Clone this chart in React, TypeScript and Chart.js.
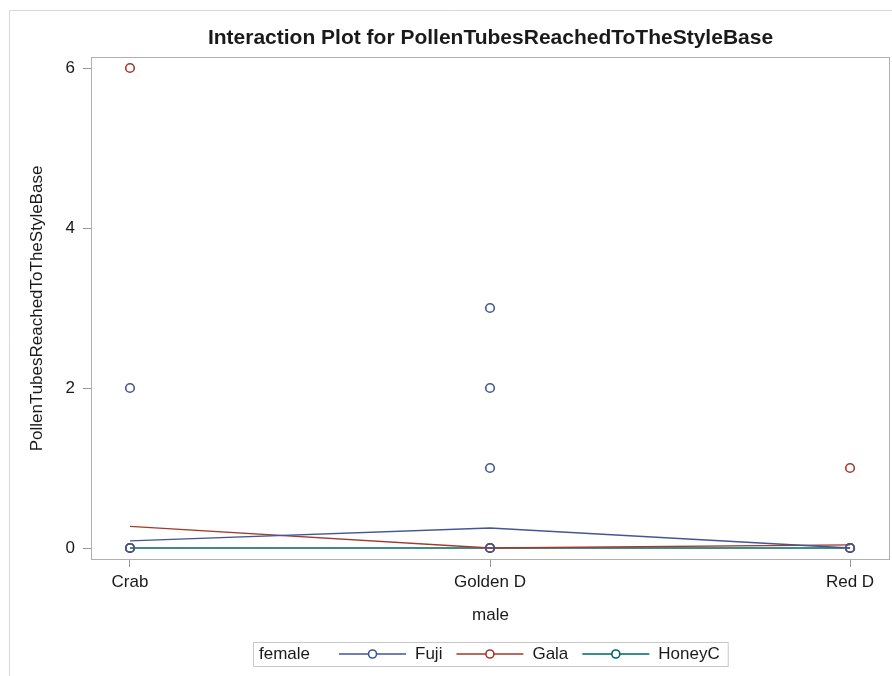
import React, { useEffect, useRef } from "react";
import { Chart, registerables } from "chart.js";

Chart.register(...registerables);

const categories = ["Crab", "Golden D", "Red D"];
const yTickValues = [0, 2, 4, 6];

const fujiObsX = [0, 0, 1, 1, 1, 1, 2];
const fujiObsY = [2, 0, 3, 2, 1, 0, 0];
const galaObsX = [0, 0, 1, 2, 2];
const galaObsY = [6, 0, 0, 1, 0];
const honeyObsX = [0, 1, 2];
const honeyObsY = [0, 0, 0];

const fujiMeans = [0.09, 0.25, 0.0];
const galaMeans = [0.27, 0.0, 0.04];
const honeyMeans = [0.0, 0.0, 0.0];

const groupNames = ["Fuji", "Gala", "HoneyC"];
const groupColors = ["#445694", "#A23A2E", "#01665E"];

const FONT = "'Liberation Sans', Arial, sans-serif";
const TEXT = "#1a1a1a";

function pts(xs: number[], ys: number[]) {
  return xs.map((x, i) => ({ x, y: ys[i] }));
}

const overlay = {
  id: "overlay",
  beforeDraw(chart: any) {
    const ctx = chart.ctx;
    ctx.save();
    ctx.strokeStyle = "#d8d8d8";
    ctx.lineWidth = 1;
    ctx.beginPath();
    ctx.moveTo(9.5, 676);
    ctx.lineTo(9.5, 10.5);
    ctx.lineTo(892, 10.5);
    ctx.stroke();
    ctx.restore();
  },
  afterDraw(chart: any) {
    const ctx = chart.ctx;
    const ca = chart.chartArea;
    const cx = (ca.left + ca.right) / 2;
    ctx.save();
    // frame
    ctx.strokeStyle = "#b0b0b0";
    ctx.lineWidth = 1;
    ctx.strokeRect(ca.left + 0.5, ca.top + 0.5, ca.right - ca.left - 1, ca.bottom - ca.top - 1);
    // title
    ctx.fillStyle = TEXT;
    ctx.textAlign = "center";
    ctx.textBaseline = "alphabetic";
    ctx.font = `bold 21px ${FONT}`;
    ctx.fillText("Interaction Plot for PollenTubesReachedToTheStyleBase", cx, 44);
    // x title
    ctx.font = `17px ${FONT}`;
    ctx.fillText("male", cx, 620);
    // y title
    ctx.save();
    ctx.translate(42, (ca.top + ca.bottom) / 2);
    ctx.rotate(-Math.PI / 2);
    ctx.fillText("PollenTubesReachedToTheStyleBase", 0, 0);
    ctx.restore();
    // legend
    ctx.font = `17px ${FONT}`;
    const padL = 6, padR = 8, lineW = 67, gapTitle = 29, gapText = 9, gapItem = 14;
    const titleW = ctx.measureText("female").width;
    const itemWs = groupNames.map((n) => ctx.measureText(n).width);
    let total = padL + titleW + padR;
    itemWs.forEach((w, i) => {
      total += (i === 0 ? gapTitle : gapItem) + lineW + gapText + w;
    });
    const bx = Math.round(cx - total / 2);
    const by = 642, bh = 24, ly = 654;
    ctx.strokeStyle = "#c8c8c8";
    ctx.strokeRect(bx + 0.5, by + 0.5, total, bh);
    ctx.textAlign = "left";
    ctx.fillStyle = TEXT;
    ctx.fillText("female", bx + padL, 659);
    let x = bx + padL + titleW;
    groupNames.forEach((n, i) => {
      x += i === 0 ? gapTitle : gapItem;
      ctx.strokeStyle = groupColors[i];
      ctx.lineWidth = 1.3;
      ctx.beginPath();
      ctx.moveTo(x, ly);
      ctx.lineTo(x + lineW, ly);
      ctx.stroke();
      ctx.lineWidth = 1.6;
      ctx.beginPath();
      ctx.arc(x + lineW / 2, ly, 4, 0, Math.PI * 2);
      ctx.fillStyle = "#ffffff";
      ctx.fill();
      ctx.stroke();
      x += lineW + gapText;
      ctx.fillStyle = TEXT;
      ctx.fillText(n, x, 659);
      x += itemWs[i];
    });
    ctx.restore();
  },
};

export default function App() {
  const ref = useRef<HTMLCanvasElement | null>(null);
  useEffect(() => {
    if (!ref.current) return;
    const obs = [
      [fujiObsX, fujiObsY],
      [galaObsX, galaObsY],
      [honeyObsX, honeyObsY],
    ];
    const means = [fujiMeans, galaMeans, honeyMeans];
    const pointSets = obs.map(([xs, ys], i) => ({
      label: groupNames[i] + " obs",
      data: pts(xs, ys),
      showLine: false,
      pointRadius: 4.3,
      pointBorderWidth: 1.6,
      pointBorderColor: groupColors[i],
      pointBackgroundColor: "rgba(0,0,0,0)",
      borderColor: groupColors[i],
    }));
    const lineSets = means.map((m, i) => ({
      label: groupNames[i],
      data: m.map((v, k) => ({ x: k, y: v })),
      showLine: true,
      pointRadius: 0,
      borderColor: groupColors[i],
      borderWidth: 1.3,
      fill: false,
    }));
    const chart = new Chart(ref.current, {
      type: "scatter",
      data: { datasets: [...pointSets, ...lineSets] as any },
      options: {
        animation: false,
        responsive: false,
        layout: { autoPadding: false, padding: { top: 57, right: 2, left: 0, bottom: 0 } },
        plugins: { legend: { display: false }, title: { display: false }, tooltip: { enabled: false } },
        scales: {
          x: {
            type: "linear",
            min: -0.1083,
            max: 2.111,
            afterFit: (s: any) => { s.height = 116; s.paddingLeft = 0; s.paddingRight = 0; },
            afterBuildTicks: (s: any) => { s.ticks = categories.map((_, i) => ({ value: i })); },
            ticks: {
              callback: (v: any) => categories[Number(v)] ?? "",
              font: { family: FONT, size: 17 },
              color: TEXT,
              padding: 5,
              maxRotation: 0,
              autoSkip: false,
            },
            grid: { display: true, drawOnChartArea: false, drawTicks: true, tickLength: 7, color: "#999999" },
            border: { display: false },
          },
          y: {
            type: "linear",
            min: -0.15,
            max: 6.1375,
            afterFit: (s: any) => { s.width = 91; s.paddingTop = 0; s.paddingBottom = 0; },
            afterBuildTicks: (s: any) => { s.ticks = yTickValues.map((v) => ({ value: v })); },
            ticks: {
              font: { family: FONT, size: 17 },
              color: TEXT,
              padding: 8,
            },
            grid: { display: true, drawOnChartArea: false, drawTicks: true, tickLength: 8, color: "#999999" },
            border: { display: false },
          },
        },
      },
      plugins: [overlay],
    });
    return () => chart.destroy();
  }, []);
  return (
    <div style={{ position: "absolute", left: 0, top: 0, width: 892, height: 676, background: "#fff" }}>
      <canvas ref={ref} width={892} height={676} style={{ display: "block" }} />
    </div>
  );
}
